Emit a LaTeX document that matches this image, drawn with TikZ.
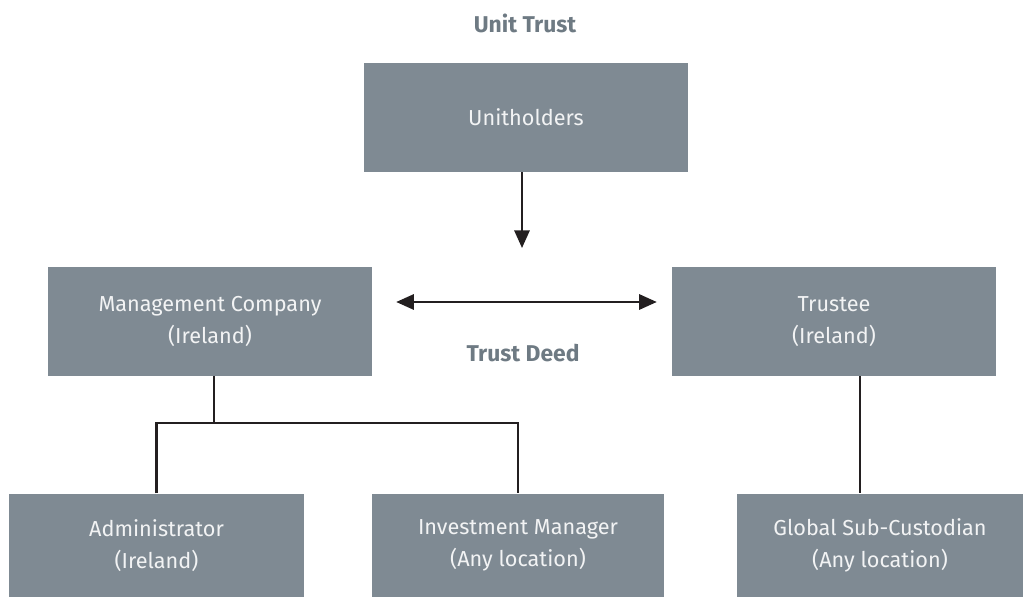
\documentclass[tikz,border=0pt]{standalone}
\usepackage{fontspec}
\setmainfont{Fira Sans}
\usetikzlibrary{arrows.meta,calc}

\definecolor{boxgray}{HTML}{7F8A93}
\definecolor{headgray}{HTML}{6E7A83}
\definecolor{boxtext}{HTML}{F2F3F4}
\definecolor{linedark}{HTML}{231F20}

\begin{document}
\begin{tikzpicture}[
    x=0.03cm, y=-0.03cm,
    party/.style={fill=boxgray, text=boxtext, minimum width=#1*0.03cm,
                  minimum height=0.03cm*104, inner sep=0pt, align=center,
                  font=\fontsize{18.5}{27}\selectfont},
    party/.default=324,
    head/.style={text=headgray, font=\fontsize{19.5}{23}\selectfont\bfseries},
    link/.style={draw=linedark, line width=1.8pt},
    tip/.style={link, -{Triangle[length=15pt, width=13pt]}},
    both/.style={link, {Triangle[length=15pt, width=13pt]}-{Triangle[length=15pt, width=13pt]}},
  ]
    \useasboundingbox (0,0) rectangle (1030,597);

    % Headings
    \node[head] (ut)   at (525, 23)  {Unit Trust};
    \node[head] (deed) at (523, 353) {Trust Deed};

    % Parties
    \node[party, minimum height=0.03cm*109] (holders) at (526, 117.5) {Unitholders};
    \node[party, minimum height=0.03cm*109] (mgmt)    at (210, 321.5) {Management Company\\(Ireland)};
    \node[party, minimum height=0.03cm*109] (trustee) at (834, 321.5) {Trustee\\(Ireland)};
    \node[party=295] (admin)  at (156.5, 545.5) {Administrator\\(Ireland)};
    \node[party=292] (invest) at (518, 545.5)   {Investment Manager\\(Any location)};
    \node[party=286] (gsub)   at (880, 545.5)   {Global Sub-Custodian\\(Any location)};

    % Unitholders to trust
    \coordinate (ht) at (522, 248);
    \draw[tip] (holders.south -| ht) -- (ht);

    % Trust deed between manager and trustee
    \draw[both] (mgmt.east) ++(24,-19.5) coordinate (da) -- ([xshift=-0.45cm]da -| trustee.west);

    % Delegates of the management company
    \coordinate (mj) at ($(mgmt.south)+(4,47)$);
    \draw[link] (mgmt.south -| mj) -- (mj);
    \draw[link] (admin.north) |- (mj) -| (invest.north);

    % Trustee to sub-custodian
    \draw[link] (trustee.south) ++(26,0) coordinate (tj) -- (tj |- gsub.north);
  \end{tikzpicture}
\end{document}
